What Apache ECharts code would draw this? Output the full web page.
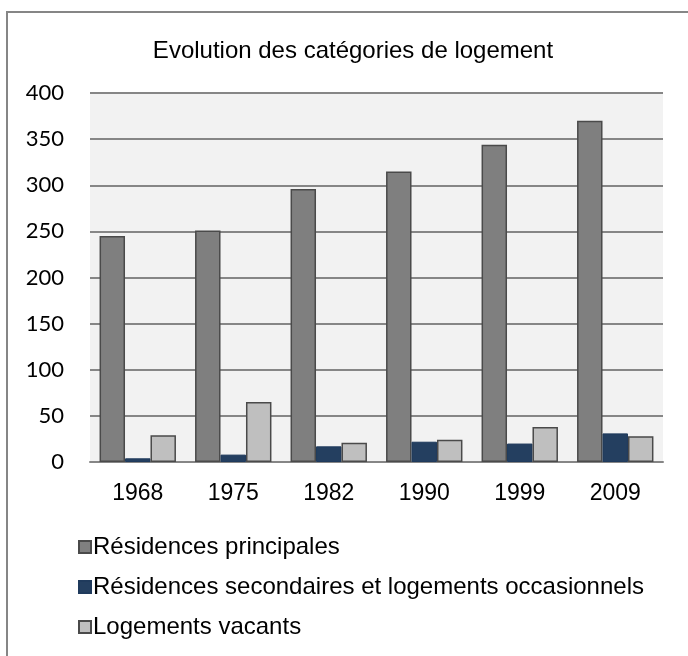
<!DOCTYPE html>
<html>
<head>
<meta charset="utf-8">
<script src="https://cdn.jsdelivr.net/npm/echarts@6/dist/echarts.min.js"></script>
<style>html,body{margin:0;padding:0;background:#fff}#c{width:688px;height:656px}</style>
</head>
<body>
<div id="c"></div>
<script>
const years = ['1968','1975','1982','1990','1999','2009'];
const principales = [245, 251, 296, 315, 344, 370];
const secondaires = [4, 8, 17, 22, 20, 31];
const vacants = [29, 65, 21, 24, 38, 28];
const seriesNames = ['Résidences principales','Résidences secondaires et logements occasionnels','Logements vacants'];
const titleText = 'Evolution des catégories de logement';

const chart = echarts.init(document.getElementById('c'));
chart.setOption({
  animation: false,
  backgroundColor: '#ffffff',
  graphic: [{
    type: 'rect', shape: {x: 7, y: 12, width: 720, height: 700},
    style: {fill: 'none', stroke: '#868686', lineWidth: 2}, z: -1
  }],
  title: {
    text: titleText, left: 348, textAlign: 'center', top: 34,
    textStyle: {fontFamily: 'Liberation Sans, Arial', fontSize: 24, fontWeight: 'normal', color: '#000'}
  },
  legend: {
    orient: 'vertical', left: 73, top: 530, itemGap: 16,
    itemWidth: 12, itemHeight: 12, icon: 'rect',
    textStyle: {fontFamily: 'Liberation Sans, Arial', fontSize: 24, color: '#000', padding: [0,0,0,-3]},
    data: seriesNames
  },
  grid: {left: 90, right: 25, top: 93, bottom: 194, backgroundColor: '#f2f2f2', show: true, borderWidth: 0},
  xAxis: {
    type: 'category', data: years,
    axisLine: {lineStyle: {color: '#868686', width: 2}},
    axisTick: {show: false},
    axisLabel: {fontFamily: 'Liberation Sans, Arial', fontSize: 23, color: '#000', margin: 20}
  },
  yAxis: {
    type: 'value', min: 0, max: 400, interval: 50,
    axisLine: {show: false}, axisTick: {show: false},
    splitLine: {lineStyle: {color: '#868686', width: 2}},
    axisLabel: {fontFamily: 'Lato', fontSize: 22, color: '#000', margin: 26}
  },
  series: [
    {name: seriesNames[0], type: 'bar', data: principales, barGap: '0%', barCategoryGap: '20%',
     itemStyle: {color: '#7f7f7f', borderColor: '#4a4a4a', borderWidth: 1.5}},
    {name: seriesNames[1], type: 'bar', data: secondaires,
     itemStyle: {color: '#243f60', borderColor: '#1f3a5c', borderWidth: 1}},
    {name: seriesNames[2], type: 'bar', data: vacants,
     itemStyle: {color: '#bfbfbf', borderColor: '#4a4a4a', borderWidth: 1.5}}
  ]
});
</script>
</body>
</html>
